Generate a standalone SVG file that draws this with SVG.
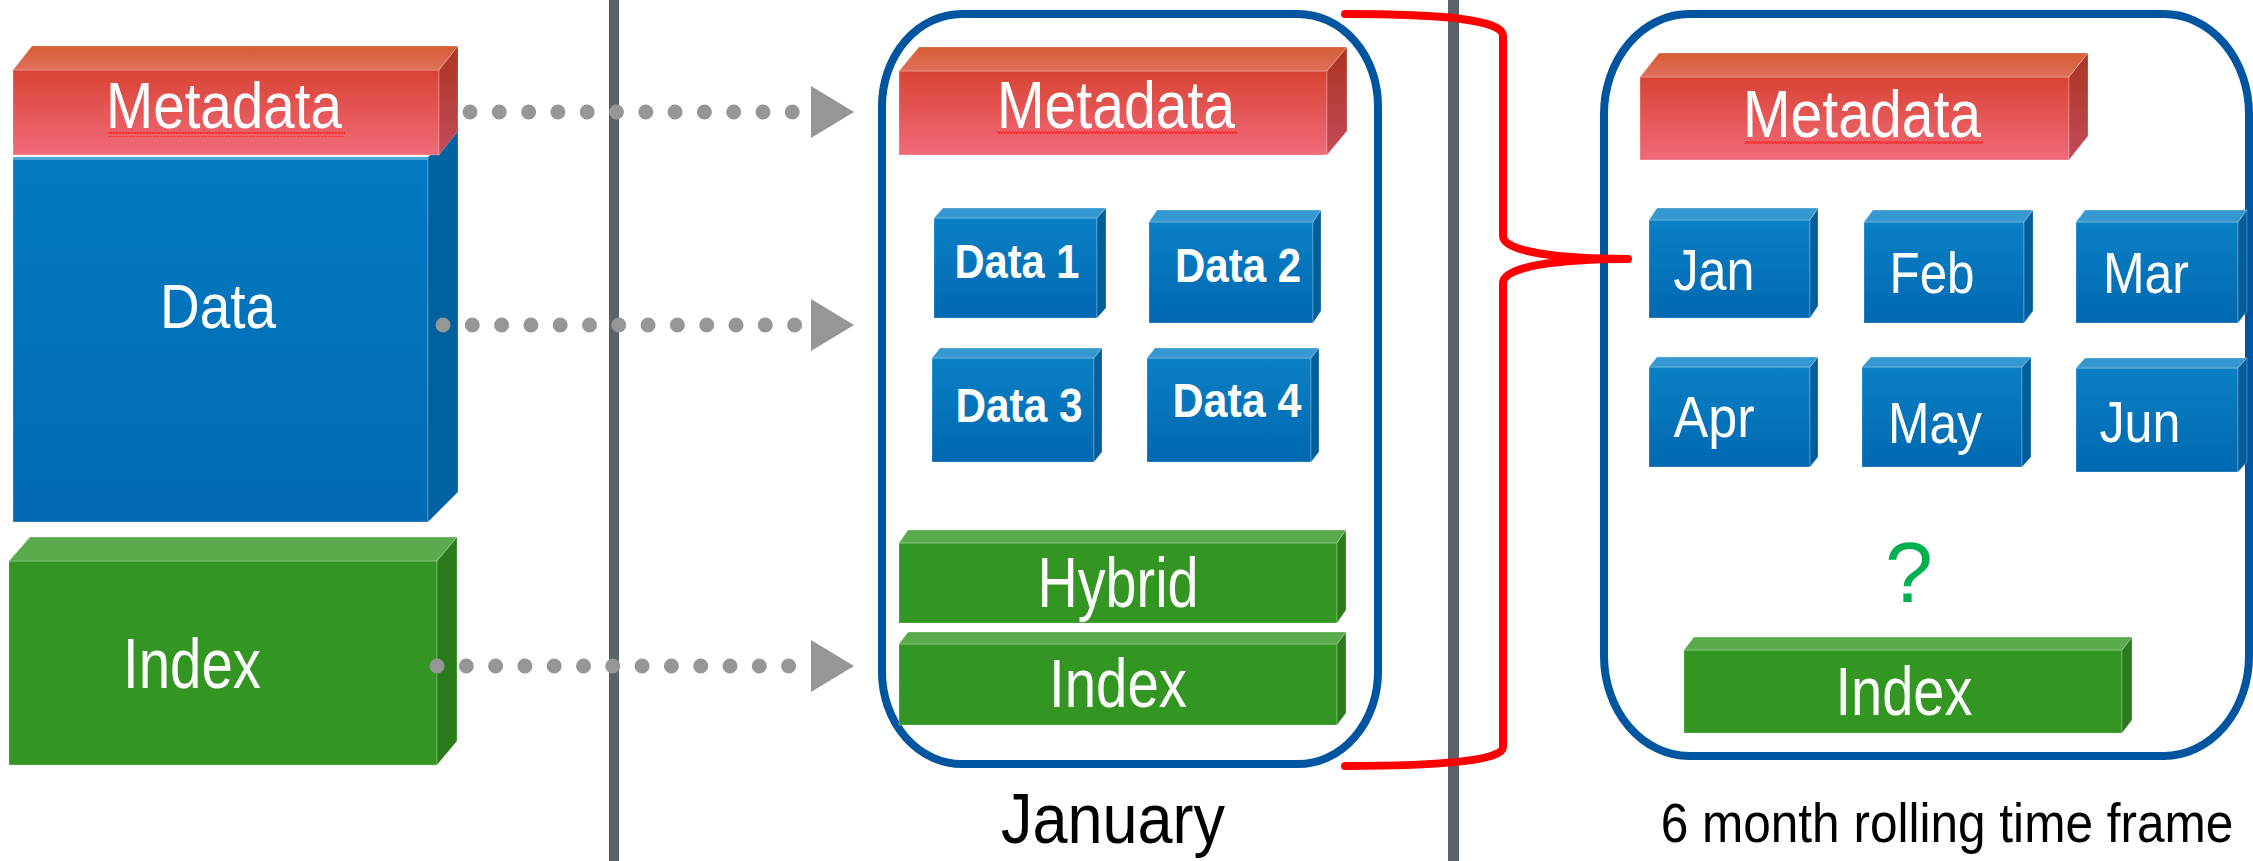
<svg xmlns="http://www.w3.org/2000/svg" width="2253" height="861" viewBox="0 0 2253 861">
<defs>
<linearGradient id="gRed" x1="0" y1="0" x2="0" y2="1"><stop offset="0" stop-color="#d84333"/><stop offset="1" stop-color="#f26b7b"/></linearGradient>
<linearGradient id="gRedTop" x1="0" y1="0" x2="0" y2="1"><stop offset="0" stop-color="#d55c35"/><stop offset="1" stop-color="#e0705a"/></linearGradient>
<linearGradient id="gRedSide" x1="0" y1="0" x2="0" y2="1"><stop offset="0" stop-color="#ab3520"/><stop offset="1" stop-color="#c44a58"/></linearGradient>
<linearGradient id="gBlue" x1="0" y1="0" x2="0" y2="1"><stop offset="0" stop-color="#0a80c5"/><stop offset="1" stop-color="#0068b1"/></linearGradient>
<linearGradient id="gBlueBig" x1="0" y1="0" x2="0" y2="1"><stop offset="0" stop-color="#027ac2"/><stop offset="1" stop-color="#026ab3"/></linearGradient>
<pattern id="squig" width="6" height="5" patternUnits="userSpaceOnUse"><path d="M0,4 L1.5,1 L3,4 L4.5,1 L6,4" fill="none" stroke="#ff2020" stroke-width="1"/></pattern>
<marker id="tri" markerUnits="userSpaceOnUse" markerWidth="44" markerHeight="52" viewBox="0 0 44 52" refX="0" refY="26" orient="auto"><path d="M0,0 L43,26 L0,52 Z" fill="#969696"/></marker>
<style>
.red .f{fill:url(#gRed)} .red .t{fill:url(#gRedTop)} .red .s{fill:url(#gRedSide)}
.blue .f{fill:url(#gBlue)} .blue .t{fill:#3598d0} .blue .s{fill:#005e9b}
.green .f{fill:#339522} .green .t{fill:#5aab4b} .green .s{fill:#2a7c1b}
.f,.t,.s{stroke:#ffffff;stroke-opacity:0.25;stroke-width:1}
.lbl{font-family:"Liberation Sans",Arial,sans-serif;fill:#ffffff;text-anchor:middle}
.b{font-weight:bold}
.cap{font-family:"Liberation Sans",Arial,sans-serif;fill:#000000;text-anchor:middle}
.dots{fill:none;stroke:#969696;stroke-width:15;stroke-linecap:round;stroke-dasharray:0 29.3;marker-end:url(#tri)}
.frame{fill:none;stroke:#0055a0;stroke-width:8}
.divider{fill:#5b6269}
</style>
</defs>
<rect width="2253" height="861" fill="#ffffff"/>
<g id="dividers">
<rect class="divider" x="609" y="0" width="10" height="861"/>
<rect class="divider" x="1448" y="0" width="11" height="861"/>
</g>
<g id="frames">
<rect id="january-frame" class="frame" x="882" y="14" width="496" height="750" rx="80" ry="92"/>
<rect id="six-month-frame" class="frame" x="1604" y="14" width="645" height="742" rx="85" ry="100"/>
</g>
<g id="left-data" class="blue">
<rect class="f" x="13" y="157" width="415" height="365" style="fill:url(#gBlueBig)"/>
<polygon class="s" points="428,157 458,127 458,492 428,522" style="fill:#0061a0"/>
<rect x="13" y="157" width="415" height="3" fill="#4aa6dc"/>
<text class="lbl" x="218" y="328" font-size="63" textLength="116" lengthAdjust="spacingAndGlyphs">Data</text>
</g>
<g id="left-metadata" class="red">
<rect class="f" x="13" y="70" width="426" height="85"/>
<polygon class="t" points="13,70 32,46 458,46 439,70"/>
<polygon class="s" points="439,70 458,46 458,131 439,155"/>
<text class="lbl" x="224" y="128" font-size="64" textLength="236" lengthAdjust="spacingAndGlyphs">Metadata</text>
<rect x="108" y="132" width="237" height="5" fill="url(#squig)"/>
</g>
<g id="left-index" class="green">
<rect class="f" x="9" y="561" width="428" height="204"/>
<polygon class="t" points="9,561 30,537 457,537 437,561"/>
<polygon class="s" points="437,561 457,537 457,741 437,765"/>
<text class="lbl" x="192" y="688" font-size="70" textLength="138" lengthAdjust="spacingAndGlyphs">Index</text>
</g>
<g id="jan-metadata" class="red">
<rect class="f" x="899" y="71" width="428" height="84"/>
<polygon class="t" points="899,71 919,47 1347,47 1327,71"/>
<polygon class="s" points="1327,71 1347,47 1347,131 1327,155"/>
<text class="lbl" x="1116" y="128" font-size="66" textLength="238" lengthAdjust="spacingAndGlyphs">Metadata</text>
<rect x="997" y="131" width="240" height="5" fill="url(#squig)"/>
</g>
<g id="data1" class="blue">
<rect class="f" x="934" y="218" width="163" height="100"/>
<polygon class="t" points="934,218 943,208 1106,208 1097,218"/>
<polygon class="s" points="1097,218 1106,208 1106,308 1097,318"/>
<text class="lbl b" x="1017" y="278" font-size="49" textLength="125" lengthAdjust="spacingAndGlyphs">Data 1</text>
</g>
<g id="data2" class="blue">
<rect class="f" x="1149" y="222" width="164" height="101"/>
<polygon class="t" points="1149,222 1157,210 1321,210 1313,222"/>
<polygon class="s" points="1313,222 1321,210 1321,311 1313,323"/>
<text class="lbl b" x="1238" y="282" font-size="49" textLength="126" lengthAdjust="spacingAndGlyphs">Data 2</text>
</g>
<g id="data3" class="blue">
<rect class="f" x="932" y="358" width="162" height="104"/>
<polygon class="t" points="932,358 940,348 1102,348 1094,358"/>
<polygon class="s" points="1094,358 1102,348 1102,452 1094,462"/>
<text class="lbl b" x="1019" y="422" font-size="49" textLength="127" lengthAdjust="spacingAndGlyphs">Data 3</text>
</g>
<g id="data4" class="blue">
<rect class="f" x="1147" y="358" width="164" height="104"/>
<polygon class="t" points="1147,358 1155,348 1319,348 1311,358"/>
<polygon class="s" points="1311,358 1319,348 1319,452 1311,462"/>
<text class="lbl b" x="1237" y="417" font-size="49" textLength="129" lengthAdjust="spacingAndGlyphs">Data 4</text>
</g>
<g id="hybrid" class="green">
<rect class="f" x="899" y="543" width="438" height="80"/>
<polygon class="t" points="899,543 908,530 1346,530 1337,543"/>
<polygon class="s" points="1337,543 1346,530 1346,610 1337,623"/>
<text class="lbl" x="1118" y="607" font-size="70" textLength="161" lengthAdjust="spacingAndGlyphs">Hybrid</text>
</g>
<g id="jan-index" class="green">
<rect class="f" x="899" y="644" width="438" height="81"/>
<polygon class="t" points="899,644 908,632 1346,632 1337,644"/>
<polygon class="s" points="1337,644 1346,632 1346,713 1337,725"/>
<text class="lbl" x="1118" y="707" font-size="68" textLength="138" lengthAdjust="spacingAndGlyphs">Index</text>
</g>
<g id="roll-metadata" class="red">
<rect class="f" x="1640" y="77" width="429" height="83"/>
<polygon class="t" points="1640,77 1659,53 2088,53 2069,77"/>
<polygon class="s" points="2069,77 2088,53 2088,136 2069,160"/>
<text class="lbl" x="1862" y="137" font-size="66" textLength="238" lengthAdjust="spacingAndGlyphs">Metadata</text>
<rect x="1745" y="141" width="238" height="5" fill="url(#squig)"/>
</g>
<g id="jan" class="blue">
<rect class="f" x="1649" y="220" width="161" height="98"/>
<polygon class="t" points="1649,220 1657,208 1818,208 1810,220"/>
<polygon class="s" points="1810,220 1818,208 1818,306 1810,318"/>
<text class="lbl" x="1714" y="290" font-size="58" textLength="81" lengthAdjust="spacingAndGlyphs">Jan</text>
</g>
<g id="feb" class="blue">
<rect class="f" x="1864" y="222" width="160" height="101"/>
<polygon class="t" points="1864,222 1873,210 2033,210 2024,222"/>
<polygon class="s" points="2024,222 2033,210 2033,311 2024,323"/>
<text class="lbl" x="1932" y="293" font-size="58" textLength="85" lengthAdjust="spacingAndGlyphs">Feb</text>
</g>
<g id="mar" class="blue">
<rect class="f" x="2076" y="222" width="162" height="101"/>
<polygon class="t" points="2076,222 2085,210 2247,210 2238,222"/>
<polygon class="s" points="2238,222 2247,210 2247,311 2238,323"/>
<text class="lbl" x="2146" y="293" font-size="58" textLength="86" lengthAdjust="spacingAndGlyphs">Mar</text>
</g>
<g id="apr" class="blue">
<rect class="f" x="1649" y="367" width="161" height="100"/>
<polygon class="t" points="1649,367 1657,357 1818,357 1810,367"/>
<polygon class="s" points="1810,367 1818,357 1818,457 1810,467"/>
<text class="lbl" x="1714" y="437" font-size="58" textLength="81" lengthAdjust="spacingAndGlyphs">Apr</text>
</g>
<g id="may" class="blue">
<rect class="f" x="1862" y="367" width="160" height="100"/>
<polygon class="t" points="1862,367 1871,357 2031,357 2022,367"/>
<polygon class="s" points="2022,367 2031,357 2031,457 2022,467"/>
<text class="lbl" x="1935" y="443" font-size="58" textLength="94" lengthAdjust="spacingAndGlyphs">May</text>
</g>
<g id="jun" class="blue">
<rect class="f" x="2076" y="368" width="162" height="104"/>
<polygon class="t" points="2076,368 2085,358 2247,358 2238,368"/>
<polygon class="s" points="2238,368 2247,358 2247,462 2238,472"/>
<text class="lbl" x="2140" y="442" font-size="58" textLength="81" lengthAdjust="spacingAndGlyphs">Jun</text>
</g>
<g id="question">
<text x="1909" y="602" font-family="Liberation Sans, Arial, sans-serif" font-size="86" fill="#00b050" text-anchor="middle">?</text>
</g>
<g id="roll-index" class="green">
<rect class="f" x="1684" y="650" width="438" height="83"/>
<polygon class="t" points="1684,650 1694,637 2132,637 2122,650"/>
<polygon class="s" points="2122,650 2132,637 2132,720 2122,733"/>
<text class="lbl" x="1904" y="715" font-size="68" textLength="137" lengthAdjust="spacingAndGlyphs">Index</text>
</g>
<g id="connectors">
<path class="dots" d="M470,112 L811,112"/>
<path class="dots" d="M443,325 L811,325"/>
<path class="dots" d="M437,666 L811,666"/>
<path id="brace" d="M1345,14 C1445,14 1503,20 1503,36 L1503,236 C1503,252 1560,259 1628,259 C1560,259 1503,266 1503,283 L1503,747 C1503,760 1445,766 1345,766" fill="none" stroke="#ff0000" stroke-width="8" stroke-linecap="round" stroke-linejoin="round"/>
</g>
<g id="captions">
<text class="cap" transform="translate(1113,843) scale(0.9,1)" x="0" y="0" font-size="70">January</text>
<text class="cap" transform="translate(1947,842) scale(0.885,1)" x="0" y="0" font-size="56">6 month rolling time frame</text>
</g>
</svg>
